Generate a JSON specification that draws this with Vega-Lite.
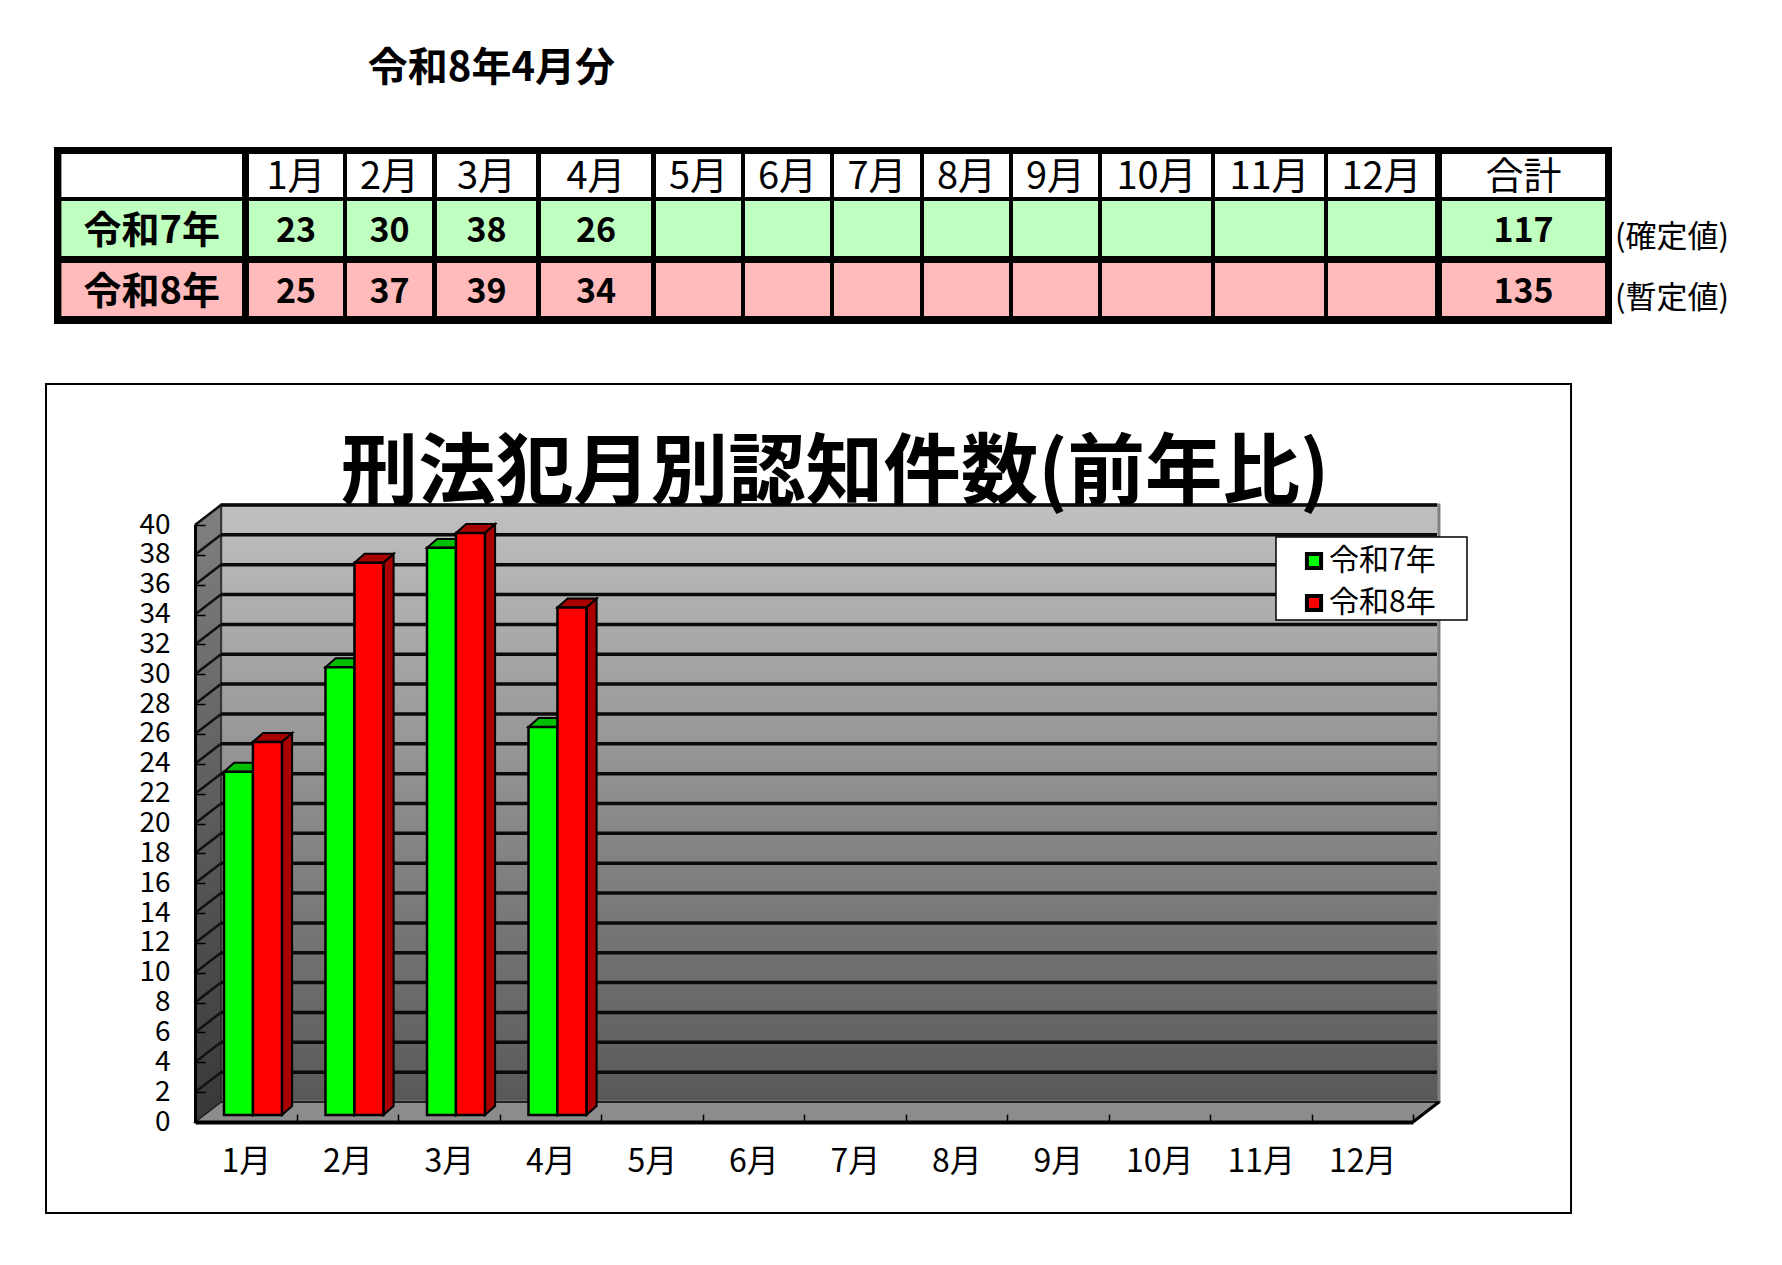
{"$schema":"https://vega.github.io/schema/vega-lite/v6.json","width":1782,"height":1265,"padding":0,"autosize":{"type":"none"},"background":"white","config":{"view":{"stroke":null},"font":"Noto Sans CJK JP"},
"title":{"text":"刑法犯月別認知件数(前年比)","anchor":"start","frame":"group","dx":835,"dy":552,"align":"center","baseline":"middle","fontSize":77.5,"font":"Noto Sans CJK JP","fontWeight":"bold","color":"black","offset":0,"zindex":1},
"datasets":{
"crime":[{"month":"1月","m":1,"series":"令和7年","value":23},{"month":"2月","m":2,"series":"令和7年","value":30},{"month":"3月","m":3,"series":"令和7年","value":38},{"month":"4月","m":4,"series":"令和7年","value":26},{"month":"1月","m":1,"series":"令和8年","value":25},{"month":"2月","m":2,"series":"令和8年","value":37},{"month":"3月","m":3,"series":"令和8年","value":39},{"month":"4月","m":4,"series":"令和8年","value":34}],
"grid":[{"v":2},{"v":4},{"v":6},{"v":8},{"v":10},{"v":12},{"v":14},{"v":16},{"v":18},{"v":20},{"v":22},{"v":24},{"v":26},{"v":28},{"v":30},{"v":32},{"v":34},{"v":36},{"v":38},{"v":40}],
"depth":[{"d":0},{"d":1}],
"one":[{"n":1}],
"cells":[{"r":0,"c":0,"label":""},{"r":0,"c":1,"label":"1月"},{"r":0,"c":2,"label":"2月"},{"r":0,"c":3,"label":"3月"},{"r":0,"c":4,"label":"4月"},{"r":0,"c":5,"label":"5月"},{"r":0,"c":6,"label":"6月"},{"r":0,"c":7,"label":"7月"},{"r":0,"c":8,"label":"8月"},{"r":0,"c":9,"label":"9月"},{"r":0,"c":10,"label":"10月"},{"r":0,"c":11,"label":"11月"},{"r":0,"c":12,"label":"12月"},{"r":0,"c":13,"label":"合計"},
{"r":1,"c":0,"label":"令和7年"},{"r":1,"c":1,"label":"23"},{"r":1,"c":2,"label":"30"},{"r":1,"c":3,"label":"38"},{"r":1,"c":4,"label":"26"},{"r":1,"c":5,"label":""},{"r":1,"c":6,"label":""},{"r":1,"c":7,"label":""},{"r":1,"c":8,"label":""},{"r":1,"c":9,"label":""},{"r":1,"c":10,"label":""},{"r":1,"c":11,"label":""},{"r":1,"c":12,"label":""},{"r":1,"c":13,"label":"117"},
{"r":2,"c":0,"label":"令和8年"},{"r":2,"c":1,"label":"25"},{"r":2,"c":2,"label":"37"},{"r":2,"c":3,"label":"39"},{"r":2,"c":4,"label":"34"},{"r":2,"c":5,"label":""},{"r":2,"c":6,"label":""},{"r":2,"c":7,"label":""},{"r":2,"c":8,"label":""},{"r":2,"c":9,"label":""},{"r":2,"c":10,"label":""},{"r":2,"c":11,"label":""},{"r":2,"c":12,"label":""},{"r":2,"c":13,"label":"135"}]
},
"resolve":{"scale":{"x":"independent","y":"independent","fill":"independent"},"axis":{"x":"independent","y":"independent"}},
"layer":[
{"layer":[
{"data":{"name":"one"},"mark":{"type":"rect","fill":"black"},"encoding":{
"x":{"datum":-0.1,"type":"quantitative","axis":null,"scale":{"domain":[-0.1,0,0.5,1,1.5,2,2.5,3,3.5,4,4.5,5,5.5,6,6.5,7,7.5,8,8.5,9,9.5,10,10.5,11,11.5,12,12.5,13,13.5,13.6,14],"range":[54,61.4,242,249,343,347,432,437,536,541,651,656,741,745,830,834,920,924,1009,1013,1098,1102,1211,1215,1324,1328,1435,1442,1605,1612,1615],"nice":false,"zero":false}},
"x2":{"datum":13.6},
"y":{"datum":-0.1,"type":"quantitative","axis":null,"scale":{"domain":[-1,-0.1,0,0.5,1,1.5,2,2.5,2.6],"range":[66,147,154,197,201,256,263,316,324],"nice":false,"zero":false}},
"y2":{"datum":2.6}}},
{"data":{"name":"cells"},"transform":[{"calculate":"datum.c+0.5","as":"ce"},{"calculate":"datum.r+0.5","as":"re"}],"mark":{"type":"rect"},"encoding":{
"x":{"field":"c","type":"quantitative","axis":null,"scale":{"domain":[-0.1,0,0.5,1,1.5,2,2.5,3,3.5,4,4.5,5,5.5,6,6.5,7,7.5,8,8.5,9,9.5,10,10.5,11,11.5,12,12.5,13,13.5,13.6,14],"range":[54,61.4,242,249,343,347,432,437,536,541,651,656,741,745,830,834,920,924,1009,1013,1098,1102,1211,1215,1324,1328,1435,1442,1605,1612,1615],"nice":false,"zero":false}},
"x2":{"field":"ce"},
"y":{"field":"r","type":"quantitative","axis":null,"scale":{"domain":[-1,-0.1,0,0.5,1,1.5,2,2.5,2.6],"range":[66,147,154,197,201,256,263,316,324],"nice":false,"zero":false}},
"y2":{"field":"re"},
"fill":{"field":"r","type":"nominal","legend":null,"scale":{"domain":[0,1,2],"range":["#ffffff","#bfffbf","#ffbbbb"]}}}},
{"data":{"name":"cells"},"transform":[{"filter":"datum.r==0 && datum.label!=''"},{"calculate":"datum.c+0.25","as":"cm"},{"calculate":"datum.r+0.25","as":"rm"}],"mark":{"type":"text","font":"Noto Sans CJK JP","fontSize":38,"fontWeight":400,"color":"black","align":"center","baseline":"middle","dy":2},"encoding":{
"x":{"field":"cm","type":"quantitative","axis":null,"scale":{"domain":[-0.1,0,0.5,1,1.5,2,2.5,3,3.5,4,4.5,5,5.5,6,6.5,7,7.5,8,8.5,9,9.5,10,10.5,11,11.5,12,12.5,13,13.5,13.6,14],"range":[54,61.4,242,249,343,347,432,437,536,541,651,656,741,745,830,834,920,924,1009,1013,1098,1102,1211,1215,1324,1328,1435,1442,1605,1612,1615],"nice":false,"zero":false}},
"y":{"field":"rm","type":"quantitative","axis":null,"scale":{"domain":[-1,-0.1,0,0.5,1,1.5,2,2.5,2.6],"range":[66,147,154,197,201,256,263,316,324],"nice":false,"zero":false}},
"text":{"field":"label"}}},
{"data":{"name":"cells"},"transform":[{"filter":"datum.r>0 && datum.label!=''"},{"calculate":"datum.c+0.25","as":"cm"},{"calculate":"datum.r+0.25","as":"rm"}],"mark":{"type":"text","font":"Noto Sans CJK JP","fontWeight":"bold","color":"black","align":"center","baseline":"middle","dy":3},"encoding":{
"x":{"field":"cm","type":"quantitative","axis":null,"scale":{"domain":[-0.1,0,0.5,1,1.5,2,2.5,3,3.5,4,4.5,5,5.5,6,6.5,7,7.5,8,8.5,9,9.5,10,10.5,11,11.5,12,12.5,13,13.5,13.6,14],"range":[54,61.4,242,249,343,347,432,437,536,541,651,656,741,745,830,834,920,924,1009,1013,1098,1102,1211,1215,1324,1328,1435,1442,1605,1612,1615],"nice":false,"zero":false}},
"y":{"field":"rm","type":"quantitative","axis":null,"scale":{"domain":[-1,-0.1,0,0.5,1,1.5,2,2.5,2.6],"range":[66,147,154,197,201,256,263,316,324],"nice":false,"zero":false}},
"text":{"field":"label"},
"size":{"condition":{"test":"datum.c==0","value":38},"value":34}}},
{"data":{"values":[{"label":"(確定値)","r":1},{"label":"(暫定値)","r":2}]},"transform":[{"calculate":"datum.r+0.25","as":"rm"}],"mark":{"type":"text","font":"Noto Sans CJK JP","fontSize":31,"color":"black","align":"left","baseline":"middle","dy":9},"encoding":{
"x":{"datum":14,"type":"quantitative","axis":null,"scale":{"domain":[-0.1,0,0.5,1,1.5,2,2.5,3,3.5,4,4.5,5,5.5,6,6.5,7,7.5,8,8.5,9,9.5,10,10.5,11,11.5,12,12.5,13,13.5,13.6,14],"range":[54,61.4,242,249,343,347,432,437,536,541,651,656,741,745,830,834,920,924,1009,1013,1098,1102,1211,1215,1324,1328,1435,1442,1605,1612,1615],"nice":false,"zero":false}},
"y":{"field":"rm","type":"quantitative","axis":null,"scale":{"domain":[-1,-0.1,0,0.5,1,1.5,2,2.5,2.6],"range":[66,147,154,197,201,256,263,316,324],"nice":false,"zero":false}},
"text":{"field":"label"}}},
{"data":{"values":[{"label":"令和8年4月分"}]},"mark":{"type":"text","font":"Noto Sans CJK JP","fontSize":40,"fontWeight":"bold","color":"black","align":"center","baseline":"middle","dy":3},"encoding":{
"x":{"datum":3.275,"type":"quantitative","axis":null,"scale":{"domain":[-0.1,0,0.5,1,1.5,2,2.5,3,3.5,4,4.5,5,5.5,6,6.5,7,7.5,8,8.5,9,9.5,10,10.5,11,11.5,12,12.5,13,13.5,13.6,14],"range":[54,61.4,242,249,343,347,432,437,536,541,651,656,741,745,830,834,920,924,1009,1013,1098,1102,1211,1215,1324,1328,1435,1442,1605,1612,1615],"nice":false,"zero":false}},
"y":{"datum":-1,"type":"quantitative","axis":null,"scale":{"domain":[-1,-0.1,0,0.5,1,1.5,2,2.5,2.6],"range":[66,147,154,197,201,256,263,316,324],"nice":false,"zero":false}},
"text":{"field":"label"}}}
]},
{"layer":[
{"data":{"name":"one"},"mark":{"type":"rect","fill":"white","stroke":"black","strokeWidth":2},"encoding":{
"x":{"datum":-1.468,"type":"quantitative","axis":{"title":null,"orient":"bottom","offset":-143,"values":[0,1,2,3,4,5,6,7,8,9,10,11,12],"labelExpr":"datum.value<12 ? (datum.value+1)+'月' : ''","labelOffset":50.75,"labelFont":"Noto Sans CJK JP","labelFontSize":32,"labelColor":"black","labelPadding":32,"labelOverlap":false,"labelBound":false,"labelFlush":false,"tickSize":-8,"tickColor":"black","tickWidth":1.5,"domainColor":"black","domainWidth":4,"grid":false,"zindex":1},"scale":{"domain":[0,12],"range":[195,1413],"nice":false,"zero":false}},
"x2":{"datum":13.557},
"y":{"datum":-6.097,"type":"quantitative","axis":{"title":null,"orient":"left","offset":-195,"values":[0,2,4,6,8,10,12,14,16,18,20,22,24,26,28,30,32,34,36,38,40],"labelFont":"Noto Sans CJK JP","labelFontSize":28,"labelColor":"black","labelPadding":35,"labelOverlap":false,"labelBound":false,"labelFlush":false,"tickSize":-10,"tickColor":"black","tickWidth":1.5,"domainColor":"black","domainWidth":3,"grid":false,"zindex":1},"scale":{"domain":[0,40],"range":[1122,525],"nice":false,"zero":false}},
"y2":{"datum":49.447}}},
{"data":{"name":"one"},"mark":{"type":"rect","stroke":"#808080","strokeWidth":3,"fill":{"gradient":"linear","x1":0,"y1":0,"x2":0,"y2":1,"stops":[{"offset":0,"color":"#c0c0c0"},{"offset":1,"color":"#585858"}]}},"encoding":{
"x":{"datum":0.256,"type":"quantitative","scale":{"domain":[0,12],"range":[195,1413],"nice":false,"zero":false}},
"x2":{"datum":12.256},
"y":{"datum":1.34,"type":"quantitative","scale":{"domain":[0,40],"range":[1122,525],"nice":false,"zero":false}},
"y2":{"datum":41.34}}},
{"data":{"name":"depth"},"transform":[{"calculate":"datum.d*0.256","as":"x0"},{"calculate":"12+datum.d*0.256","as":"x1"},{"calculate":"datum.d*1.34","as":"yy"}],"mark":{"type":"area","orient":"horizontal","fill":"#8c8c8c","stroke":"black","strokeWidth":1.5},"encoding":{
"x":{"field":"x0","type":"quantitative","scale":{"domain":[0,12],"range":[195,1413],"nice":false,"zero":false}},
"x2":{"field":"x1"},
"y":{"field":"yy","type":"quantitative","scale":{"domain":[0,40],"range":[1122,525],"nice":false,"zero":false}}}},
{"data":{"name":"depth"},"transform":[{"calculate":"datum.d*0.256","as":"x0"},{"calculate":"datum.d*1.34","as":"y0"},{"calculate":"40+datum.d*1.34","as":"y1"}],"mark":{"type":"area","orient":"vertical","stroke":"#222222","strokeWidth":1.5,"fill":{"gradient":"linear","x1":0,"y1":0,"x2":0,"y2":1,"stops":[{"offset":0,"color":"#808080"},{"offset":1,"color":"#383838"}]}},"encoding":{
"x":{"field":"x0","type":"quantitative","scale":{"domain":[0,12],"range":[195,1413],"nice":false,"zero":false}},
"y":{"field":"y0","type":"quantitative","scale":{"domain":[0,40],"range":[1122,525],"nice":false,"zero":false}},
"y2":{"field":"y1"}}},
{"data":{"name":"grid"},"mark":{"type":"rule","color":"#0a0a0a","strokeWidth":3.5,"yOffset":-20,"y2Offset":-20},"encoding":{
"x":{"datum":0.256,"type":"quantitative","scale":{"domain":[0,12],"range":[195,1413],"nice":false,"zero":false}},
"x2":{"datum":12.236},
"y":{"field":"v","type":"quantitative","scale":{"domain":[0,40],"range":[1122,525],"nice":false,"zero":false}},
"y2":{"field":"v"}}},
{"data":{"name":"grid"},"transform":[{"calculate":"datum.v+1.34","as":"vb"}],"mark":{"type":"rule","color":"#111111","strokeWidth":2.5},"encoding":{
"x":{"datum":0,"type":"quantitative","scale":{"domain":[0,12],"range":[195,1413],"nice":false,"zero":false}},
"x2":{"datum":0.256},
"y":{"field":"v","type":"quantitative","scale":{"domain":[0,40],"range":[1122,525],"nice":false,"zero":false}},
"y2":{"field":"vb"}}},
{"data":{"name":"one"},"mark":{"type":"rule","color":"black","strokeWidth":3},"encoding":{
"x":{"datum":12,"type":"quantitative","scale":{"domain":[0,12],"range":[195,1413],"nice":false,"zero":false}},
"x2":{"datum":12.256},
"y":{"datum":0,"type":"quantitative","scale":{"domain":[0,40],"range":[1122,525],"nice":false,"zero":false}},
"y2":{"datum":1.34}}},
{"data":{"name":"crime"},"transform":[{"calculate":"datum.m-1+(datum.series=='令和8年'?0.571:0.2857)+0.2857","as":"xb"},{"calculate":"[0,1]","as":"d"},{"flatten":["d"]},{"calculate":"datum.xb+datum.d*0.1","as":"sx"},{"calculate":"0.47+datum.d*0.6","as":"lo"},{"calculate":"datum.value+0.47+datum.d*0.6","as":"hi"}],"mark":{"type":"area","orient":"vertical","stroke":"black","strokeWidth":2},"encoding":{
"x":{"field":"sx","type":"quantitative","scale":{"domain":[0,12],"range":[195,1413],"nice":false,"zero":false}},
"y":{"field":"lo","type":"quantitative","scale":{"domain":[0,40],"range":[1122,525],"nice":false,"zero":false}},
"y2":{"field":"hi"},
"detail":[{"field":"m"},{"field":"series"}],
"fill":{"field":"series","type":"nominal","legend":null,"scale":{"domain":["令和7年","令和8年"],"range":["#00c000","#a80000"]}}}},
{"data":{"name":"crime"},"transform":[{"calculate":"datum.m-1+(datum.series=='令和8年'?0.571:0.2857)","as":"xa"},{"calculate":"[0,1]","as":"d"},{"flatten":["d"]},{"calculate":"datum.xa+datum.d*0.1","as":"tx0"},{"calculate":"datum.xa+0.2857+datum.d*0.1","as":"tx1"},{"calculate":"datum.value+0.47+datum.d*0.6","as":"ty"}],"mark":{"type":"area","orient":"horizontal","stroke":"black","strokeWidth":2},"encoding":{
"x":{"field":"tx0","type":"quantitative","scale":{"domain":[0,12],"range":[195,1413],"nice":false,"zero":false}},
"x2":{"field":"tx1"},
"y":{"field":"ty","type":"quantitative","scale":{"domain":[0,40],"range":[1122,525],"nice":false,"zero":false}},
"detail":[{"field":"m"},{"field":"series"}],
"fill":{"field":"series","type":"nominal","legend":null,"scale":{"domain":["令和7年","令和8年"],"range":["#00c000","#a80000"]}}}},
{"data":{"name":"crime"},"transform":[{"calculate":"datum.m-1+(datum.series=='令和8年'?0.571:0.2857)","as":"xa"},{"calculate":"datum.xa+0.2857","as":"xb"}],"mark":{"type":"rect","stroke":"black","strokeWidth":2.5,"yOffset":-7,"y2Offset":-7},"encoding":{
"x":{"field":"xa","type":"quantitative","scale":{"domain":[0,12],"range":[195,1413],"nice":false,"zero":false}},
"x2":{"field":"xb"},
"y":{"field":"value","type":"quantitative","scale":{"domain":[0,40],"range":[1122,525],"nice":false,"zero":false}},
"y2":{"datum":0},
"color":{"field":"series","type":"nominal","scale":{"domain":["令和7年","令和8年"],"range":["#00ff00","#ff0000"]},"legend":{"title":null,"orient":"none","legendX":1276,"legendY":542,"padding":4,"symbolType":"square","symbolSize":200,"symbolStrokeColor":"black","symbolStrokeWidth":4,"symbolOpacity":1,"symbolOffset":19,"labelFontSize":30,"labelFont":"Noto Sans CJK JP","labelColor":"black","labelOffset":0,"rowPadding":10}}}},
{"data":{"name":"one"},"mark":{"type":"rect","fill":"white","stroke":"black","strokeWidth":1.5},"encoding":{
"x":{"datum":10.65,"type":"quantitative","scale":{"domain":[0,12],"range":[195,1413],"nice":false,"zero":false}},
"x2":{"datum":12.532},
"y":{"datum":33.635,"type":"quantitative","scale":{"domain":[0,40],"range":[1122,525],"nice":false,"zero":false}},
"y2":{"datum":39.196}}}
]}
]}
